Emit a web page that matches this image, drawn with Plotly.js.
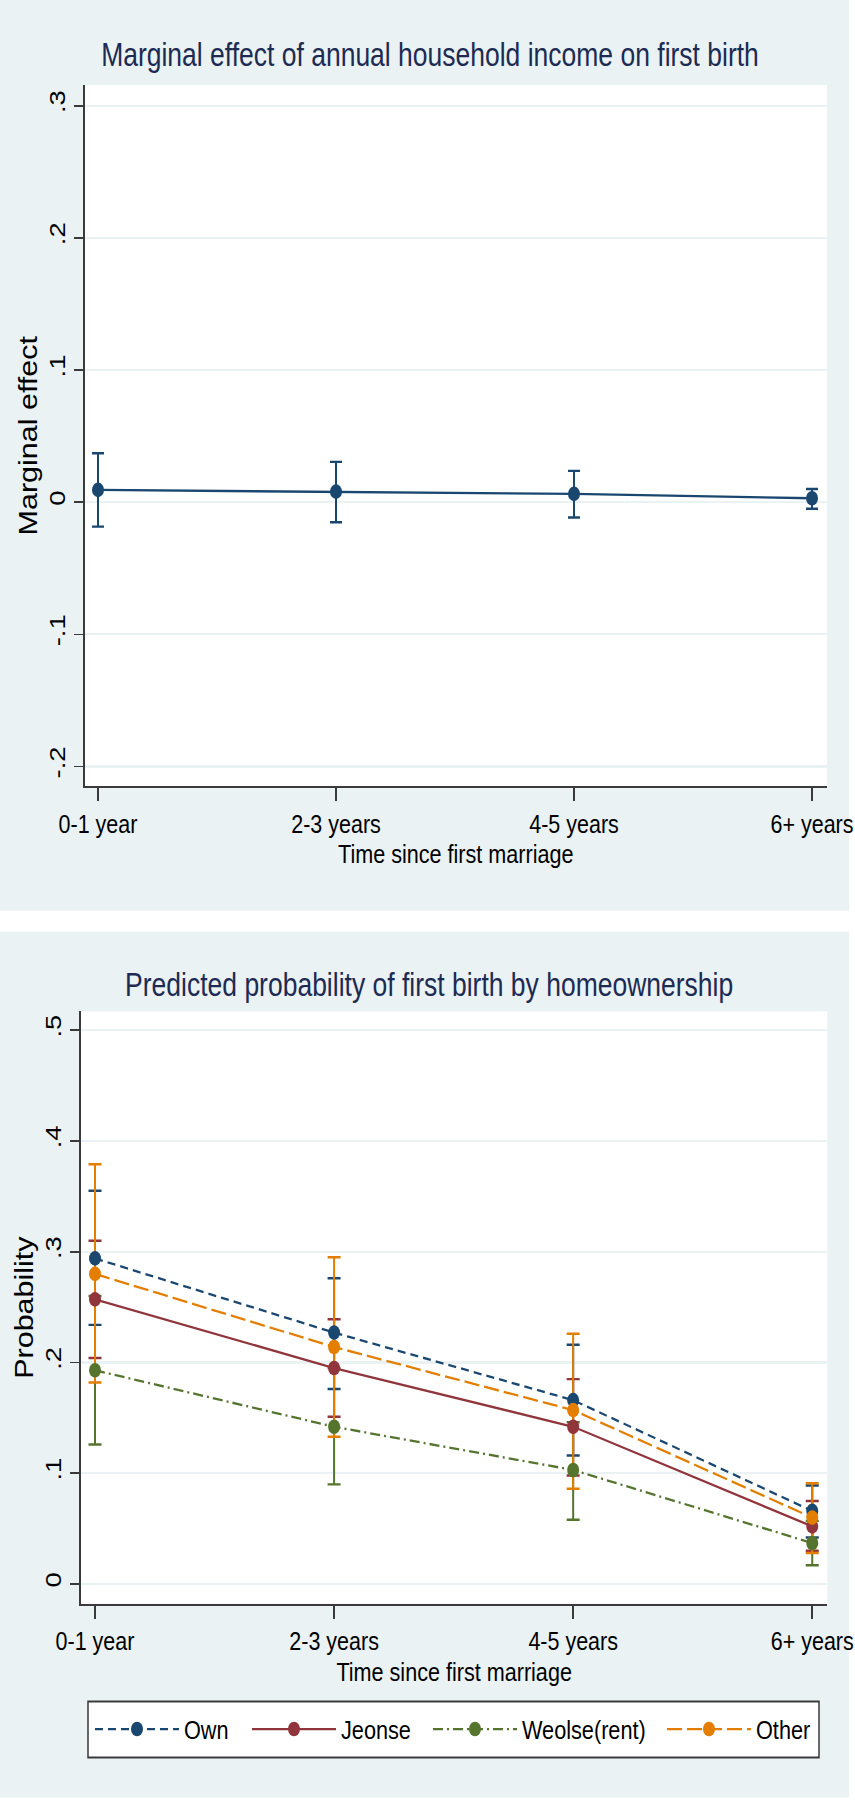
<!DOCTYPE html>
<html>
<head>
<meta charset="utf-8">
<script src="https://cdn.plot.ly/plotly-3.0.1.min.js"></script>
<style>
html,body{margin:0;padding:0;background:#ffffff;}
#wrap{width:855px;height:1800px;position:relative;}
#chart{width:855px;transform-origin:0 0;position:absolute;left:0;top:0;}
</style>
</head>
<body>
<div id="wrap"><div id="chart"></div></div>
<script>
// ---------- data ----------
const categories = ["0-1 year", "2-3 years", "4-5 years", "6+ years"];

// Top panel: marginal effect of annual household income
const incomeEffect = [0.0093, 0.0080, 0.0063, 0.0030];
const incomeUpper  = [0.0370, 0.0305, 0.0237, 0.0100];
const incomeLower  = [-0.0185, -0.0151, -0.0116, -0.0050];

// Bottom panel: predicted probability by homeownership
const seriesNames = ["Own", "Jeonse", "Weolse(rent)", "Other"];
const own         = [0.294, 0.227, 0.166, 0.066];
const ownUpper    = [0.355, 0.276, 0.216, 0.089];
const ownLower    = [0.234, 0.176, 0.116, 0.042];
const jeonse      = [0.257, 0.195, 0.142, 0.052];
const jeonseUpper = [0.310, 0.239, 0.185, 0.075];
const jeonseLower = [0.204, 0.151, 0.098, 0.030];
const weolse      = [0.193, 0.142, 0.103, 0.037];
const weolseUpper = [0.260, 0.195, 0.146, 0.057];
const weolseLower = [0.126, 0.090, 0.058, 0.017];
const other       = [0.280, 0.214, 0.157, 0.060];
const otherUpper  = [0.379, 0.295, 0.226, 0.091];
const otherLower  = [0.182, 0.133, 0.086, 0.028];

const topTickVals = [-0.2, -0.1, 0, 0.1, 0.2, 0.3];
const topTickText = ["-.2", "-.1", "0", ".1", ".2", ".3"];
const botTickVals = [0, 0.1, 0.2, 0.3, 0.4, 0.5];
const botTickText = ["0", ".1", ".2", ".3", ".4", ".5"];

const topTitle = "Marginal effect of annual household income on first birth";
const botTitle = "Predicted probability of first birth by homeownership";
const xTitle = "Time since first marriage";
const topYTitle = "Marginal effect";
const botYTitle = "Probability";

// ---------- styles ----------
// The reference picture is stretched vertically; draw at a reduced height and stretch.
const S = 1.22;
const W = 855, H = 1800;
const PH = H / S;
document.getElementById("chart").style.height = PH + "px";
document.getElementById("chart").style.transform = "scaleY(" + S + ")";
const px = v => v / W;
const py = v => 1 - v / H;
const FONT = "'Liberation Sans', Arial, sans-serif";
const BG = "#eaf2f3";
const AX = "#3a3a3a";
const colors = ["#1a476f", "#90353b", "#55752f", "#e37e00"];
const dashes = ["8px,5px", "solid", "10px,4px,2px,4px", "15px,5px"];
const legendNames = ["legend", "legend2", "legend3", "legend4"];
const legendStarts = [98, 255, 436, 670];

function diff(a, b) { return a.map((v, i) => v - b[i]); }

const traces = [];

// top panel
traces.push({
  x: categories, y: incomeEffect, xaxis: "x", yaxis: "y",
  type: "scatter", mode: "markers", showlegend: false, hoverinfo: "skip",
  marker: {size: 1, color: "rgba(0,0,0,0)"},
  error_y: {type: "data", symmetric: false,
    array: diff(incomeUpper, incomeEffect), arrayminus: diff(incomeEffect, incomeLower),
    color: colors[0], thickness: 2, width: 6}
});
traces.push({
  x: categories, y: incomeEffect, xaxis: "x", yaxis: "y",
  type: "scatter", mode: "lines+markers", showlegend: false,
  line: {color: colors[0], width: 1.9},
  marker: {color: colors[0], size: 12, symbol: "circle"}
});

// bottom panel
const vals = [own, jeonse, weolse, other];
const ups = [ownUpper, jeonseUpper, weolseUpper, otherUpper];
const lows = [ownLower, jeonseLower, weolseLower, otherLower];
for (let i = 0; i < 4; i++) {
  traces.push({
    x: categories, y: vals[i], xaxis: "x2", yaxis: "y2",
    type: "scatter", mode: "markers", showlegend: false, hoverinfo: "skip",
    marker: {size: 1, color: "rgba(0,0,0,0)"},
    error_y: {type: "data", symmetric: false,
      array: diff(ups[i], vals[i]), arrayminus: diff(vals[i], lows[i]),
      color: colors[i], thickness: 2, width: 6.5}
  });
}
for (let i = 0; i < 4; i++) {
  traces.push({
    x: categories, y: vals[i], xaxis: "x2", yaxis: "y2", name: seriesNames[i],
    legend: legendNames[i],
    type: "scatter", mode: "lines+markers",
    line: {color: colors[i], width: 1.9, dash: dashes[i]},
    marker: {color: colors[i], size: 12, symbol: "circle"}
  });
}

function xAxis(domain, anchor, rng) {
  return {
    domain: domain, anchor: anchor, type: "category", range: rng,
    showline: true, linecolor: AX, linewidth: 1.6, mirror: false,
    ticks: "outside", ticklen: 10.5, tickwidth: 1.5, tickcolor: AX,
    showgrid: false, zeroline: false, fixedrange: true,
    tickfont: {family: FONT, size: 21.5, color: "#000"},
    title: {text: xTitle, font: {family: FONT, size: 21.6, color: "#000"}, standoff: 2}
  };
}
function yAxis(domain, anchor, rng, tv, tt, title) {
  return {
    domain: domain, anchor: anchor, range: rng,
    tickmode: "array", tickvals: tv, ticktext: tt, tickangle: -90,
    showline: true, linecolor: AX, linewidth: 2, mirror: false,
    ticks: "outside", ticklen: 9, tickwidth: 1.4, tickcolor: AX,
    showgrid: true, gridcolor: BG, gridwidth: 1.7, zeroline: false, fixedrange: true,
    tickfont: {family: FONT, size: 22.5, color: "#000"},
    title: {text: title, font: {family: FONT, size: 25, color: "#000"}, standoff: 0}
  };
}

function legendAt(xStart) {
  return {
    orientation: "h", x: px(xStart - 8), xanchor: "left", y: py(1730), yanchor: "middle",
    bgcolor: "rgba(0,0,0,0)", borderwidth: 0,
    font: {family: FONT, size: 21.7, color: "#000"},
    itemwidth: 84
  };
}

const layout = {
  width: W, height: PH,
  margin: {l: 0, r: 0, t: 0, b: 0, pad: 0},
  paper_bgcolor: "#ffffff", plot_bgcolor: "rgba(0,0,0,0)",
  showlegend: true,
  xaxis: xAxis([px(84.5), px(827)], "y", [-0.0567, 3.063]),
  yaxis: yAxis([py(786.7), py(85)], "x", [-0.2151, 0.3157], topTickVals, topTickText, topYTitle),
  xaxis2: xAxis([px(81), px(827.3)], "y2", [-0.0586, 3.063]),
  yaxis2: yAxis([py(1604.3), py(1011.7)], "x2", [-0.0179, 0.517], botTickVals, botTickText, botYTitle),
  shapes: [
    {type: "rect", xref: "paper", yref: "paper", x0: 0, x1: px(849), y0: py(911), y1: 1,
      fillcolor: BG, line: {width: 0}, layer: "below"},
    {type: "rect", xref: "paper", yref: "paper", x0: 0, x1: px(849), y0: py(1798), y1: py(932),
      fillcolor: BG, line: {width: 0}, layer: "below"},
    {type: "rect", xref: "paper", yref: "paper", x0: px(84.5), x1: px(827), y0: py(786.7), y1: py(85),
      fillcolor: "#ffffff", line: {width: 0}, layer: "below"},
    {type: "rect", xref: "paper", yref: "paper", x0: px(81), x1: px(827.3), y0: py(1604.3), y1: py(1011.7),
      fillcolor: "#ffffff", line: {width: 0}, layer: "below"},
    {type: "rect", xref: "paper", yref: "paper", x0: px(88), x1: px(819), y0: py(1758), y1: py(1702),
      fillcolor: "#ffffff", line: {width: 1.5, color: AX}, layer: "below"}
  ],
  annotations: [
    {text: topTitle, xref: "paper", yref: "paper", x: px(430), y: py(55.5), xanchor: "center", yanchor: "middle",
      showarrow: false, font: {family: FONT, size: 26.5, color: "#1d2b53"}},
    {text: botTitle, xref: "paper", yref: "paper", x: px(429), y: py(985), xanchor: "center", yanchor: "middle",
      showarrow: false, font: {family: FONT, size: 26.5, color: "#1d2b53"}}
  ],
  legend: legendAt(legendStarts[0]),
  legend2: legendAt(legendStarts[1]),
  legend3: legendAt(legendStarts[2]),
  legend4: legendAt(legendStarts[3])
};

Plotly.newPlot("chart", traces, layout, {displayModeBar: false, staticPlot: true});
</script>
</body>
</html>
